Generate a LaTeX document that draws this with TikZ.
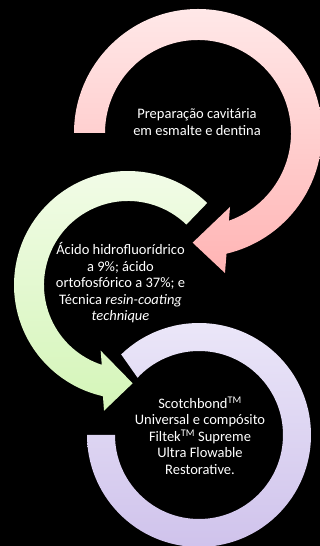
\documentclass[tikz,border=0pt]{standalone}
\usepackage{fontspec}
\setmainfont{Carlito}
\begin{document}
\begin{tikzpicture}[x=1pt,y=1pt,
  lbl/.style={text=white,align=center,font=\fontsize{14.5}{16.5}\selectfont},
  pinkfill/.style={top color={rgb,255:red,255;green,232;blue,232},bottom color={rgb,255:red,255;green,180;blue,180}},
  greenfill/.style={top color={rgb,255:red,243;green,252;blue,233},bottom color={rgb,255:red,212;green,245;blue,184}},
  lavfill/.style={top color={rgb,255:red,236;green,232;blue,249},bottom color={rgb,255:red,206;green,193;blue,235}}]
\fill[black] (0,0) rectangle (320,546);
\useasboundingbox (0,0) rectangle (320,546);
\clip (0,0) rectangle (320,546);
% pink arrow
\begin{scope}[shift={(198,413)}]
\shade[pinkfill] (180:124) arc[start angle=180,end angle=-76.7,radius=124]
  -- (-79.1:142.6) -- (-92.8:109.8) -- (-66.6:80.6) -- (-70.6:93)
  arc[start angle=-70.6,end angle=180,radius=93] -- cycle;
\end{scope}
% green arrow
\begin{scope}[shift={(128,261)}]
\shade[greenfill] (46:114) arc[start angle=46,end angle=257.3,radius=114]
  -- (259.2:128) -- (272.7:98.4) -- (247.4:71.1) -- (251.8:84)
  arc[start angle=251.8,end angle=46,radius=84] -- cycle;
\end{scope}
% lavender arrow
\begin{scope}[shift={(199,111)}]
\shade[lavfill] (134:112) arc[start angle=134,end angle=-180,radius=112]
  -- (-180:84) arc[start angle=-180,end angle=137,radius=84] -- cycle;
\end{scope}
\node[lbl] (t1) at (197,424) {Preparação cavitária\\em esmalte e dentina};
\node[lbl] (t2) at (120.5,263) {Ácido hidrofluorídrico\\a 9\%; ácido\\ortofosfórico a 37\%; e\\Técnica \textit{resin-coating}\\\textit{technique}};
\node[lbl] (t3) at (200,110.5) {Scotchbond\textsuperscript{TM}\\Universal e compósito\\Filtek\textsuperscript{TM} Supreme\\Ultra Flowable\\Restorative.};
\end{tikzpicture}
\end{document}
